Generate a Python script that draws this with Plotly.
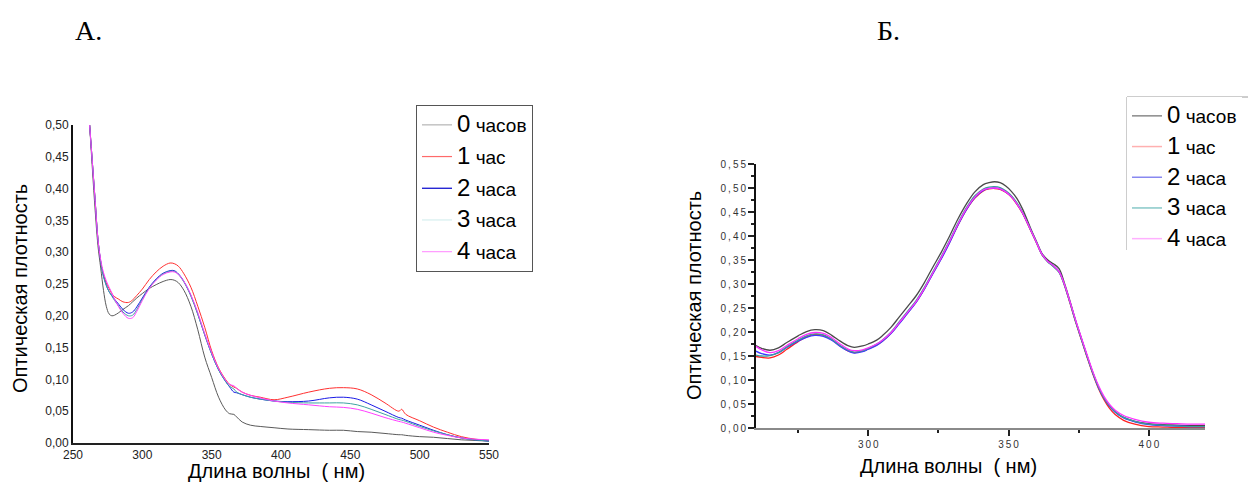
import plotly.graph_objects as go

W, H = 1248, 488

# ---------------- Data: chart A ----------------
wl_a = [262, 264, 266, 268, 270, 272, 274, 276, 278, 280, 283, 286, 290, 293, 296, 300, 305, 310,
        315, 320, 323, 326, 330, 335, 340, 345, 350, 355, 360, 363, 366, 368, 372, 378, 385, 395,
        405, 420, 435, 445, 455, 465, 475, 485, 487, 490, 500, 510, 520, 530, 540, 550]
a_h0 = [0.500, 0.430, 0.365, 0.310, 0.275, 0.240, 0.215, 0.203, 0.200, 0.201, 0.205, 0.210, 0.216,
        0.222, 0.228, 0.235, 0.243, 0.249, 0.254, 0.257, 0.256, 0.252, 0.240, 0.215, 0.178, 0.135,
        0.103, 0.072, 0.052, 0.046, 0.045, 0.041, 0.033, 0.028, 0.026, 0.024, 0.022, 0.021, 0.020,
        0.020, 0.018, 0.017, 0.015, 0.013, 0.013, 0.012, 0.010, 0.009, 0.007, 0.005, 0.004, 0.003]
a_h1 = [0.500, 0.440, 0.380, 0.320, 0.285, 0.265, 0.252, 0.243, 0.235, 0.230, 0.226, 0.222, 0.221,
        0.225, 0.232, 0.242, 0.257, 0.269, 0.278, 0.283, 0.282, 0.278, 0.266, 0.245, 0.215, 0.182,
        0.145, 0.118, 0.100, 0.092, 0.088, 0.086, 0.080, 0.075, 0.072, 0.068, 0.072, 0.080, 0.086,
        0.087, 0.085, 0.076, 0.063, 0.050, 0.053, 0.045, 0.035, 0.025, 0.017, 0.010, 0.006, 0.004]
a_h2 = [0.500, 0.440, 0.380, 0.320, 0.285, 0.262, 0.248, 0.238, 0.232, 0.226, 0.218, 0.210, 0.204,
        0.206, 0.214, 0.228, 0.245, 0.258, 0.267, 0.271, 0.271, 0.266, 0.254, 0.232, 0.203, 0.170,
        0.140, 0.115, 0.097, 0.088, 0.080, 0.079, 0.076, 0.072, 0.069, 0.066, 0.065, 0.066, 0.071,
        0.072, 0.069, 0.060, 0.050, 0.040, 0.039, 0.036, 0.028, 0.020, 0.013, 0.008, 0.005, 0.003]
a_h3 = [0.500, 0.440, 0.380, 0.320, 0.285, 0.262, 0.248, 0.238, 0.231, 0.224, 0.215, 0.206, 0.200,
        0.201, 0.210, 0.226, 0.244, 0.257, 0.266, 0.270, 0.270, 0.265, 0.253, 0.231, 0.202, 0.170,
        0.140, 0.115, 0.097, 0.089, 0.085, 0.080, 0.076, 0.072, 0.069, 0.066, 0.064, 0.063, 0.063,
        0.063, 0.060, 0.053, 0.045, 0.037, 0.036, 0.034, 0.026, 0.019, 0.013, 0.008, 0.005, 0.003]
a_h4 = [0.500, 0.440, 0.380, 0.320, 0.288, 0.268, 0.255, 0.245, 0.236, 0.226, 0.214, 0.204, 0.196,
        0.197, 0.207, 0.224, 0.243, 0.256, 0.265, 0.269, 0.269, 0.265, 0.254, 0.233, 0.205, 0.172,
        0.142, 0.117, 0.099, 0.092, 0.090, 0.086, 0.080, 0.075, 0.071, 0.066, 0.063, 0.060, 0.057,
        0.056, 0.053, 0.047, 0.040, 0.034, 0.033, 0.031, 0.024, 0.017, 0.012, 0.008, 0.006, 0.005]

# ---------------- Data: chart Б ----------------
wl_b = [260, 262, 265, 268, 271, 275, 278, 281, 284, 287, 290, 293, 295, 298, 300, 303, 305, 308,
        311, 314, 317, 320, 323, 326, 329, 332, 335, 338, 341, 343, 345, 347, 349, 351, 353, 355,
        358, 360, 362, 364, 366, 368, 370, 372, 374, 376, 378, 380, 382, 384, 386, 388, 391, 395,
        400, 405, 410, 415, 420]
b_h0 = [0.172, 0.166, 0.162, 0.167, 0.178, 0.192, 0.201, 0.205, 0.203, 0.193, 0.181, 0.171, 0.168,
        0.171, 0.175, 0.183, 0.192, 0.209, 0.231, 0.253, 0.275, 0.303, 0.335, 0.366, 0.400, 0.436,
        0.467, 0.492, 0.507, 0.511, 0.513, 0.511, 0.504, 0.493, 0.478, 0.456, 0.414, 0.388, 0.363,
        0.350, 0.342, 0.332, 0.300, 0.262, 0.222, 0.186, 0.150, 0.116, 0.086, 0.063, 0.046, 0.034,
        0.022, 0.014, 0.009, 0.007, 0.006, 0.005, 0.005]
b_h1 = [0.149, 0.147, 0.146, 0.152, 0.164, 0.180, 0.190, 0.195, 0.193, 0.184, 0.171, 0.160, 0.157,
        0.160, 0.165, 0.173, 0.181, 0.197, 0.218, 0.240, 0.262, 0.290, 0.322, 0.353, 0.387, 0.423,
        0.455, 0.479, 0.494, 0.498, 0.499, 0.497, 0.491, 0.481, 0.466, 0.447, 0.410, 0.385, 0.360,
        0.347, 0.337, 0.325, 0.296, 0.258, 0.219, 0.183, 0.147, 0.113, 0.083, 0.059, 0.041, 0.028,
        0.016, 0.008, 0.003, 0.002, 0.001, 0.001, 0.001]
b_h2 = [0.160, 0.155, 0.152, 0.157, 0.168, 0.181, 0.189, 0.193, 0.191, 0.183, 0.170, 0.160, 0.156,
        0.159, 0.164, 0.172, 0.180, 0.196, 0.217, 0.239, 0.261, 0.289, 0.321, 0.352, 0.386, 0.423,
        0.455, 0.480, 0.495, 0.499, 0.500, 0.498, 0.492, 0.482, 0.467, 0.448, 0.411, 0.386, 0.361,
        0.347, 0.338, 0.326, 0.297, 0.260, 0.221, 0.185, 0.149, 0.115, 0.085, 0.062, 0.045, 0.033,
        0.021, 0.013, 0.007, 0.005, 0.004, 0.003, 0.003]
b_h3 = [0.152, 0.150, 0.151, 0.157, 0.169, 0.183, 0.192, 0.196, 0.194, 0.185, 0.172, 0.162, 0.158,
        0.161, 0.166, 0.175, 0.183, 0.199, 0.221, 0.243, 0.265, 0.293, 0.325, 0.357, 0.391, 0.427,
        0.459, 0.484, 0.498, 0.502, 0.503, 0.501, 0.494, 0.484, 0.469, 0.449, 0.411, 0.386, 0.360,
        0.346, 0.336, 0.324, 0.296, 0.259, 0.220, 0.184, 0.149, 0.115, 0.086, 0.063, 0.046, 0.034,
        0.022, 0.014, 0.008, 0.006, 0.004, 0.003, 0.003]
b_h4 = [0.170, 0.163, 0.157, 0.161, 0.172, 0.186, 0.195, 0.199, 0.197, 0.188, 0.175, 0.164, 0.161,
        0.163, 0.167, 0.175, 0.183, 0.198, 0.219, 0.241, 0.263, 0.291, 0.323, 0.355, 0.389, 0.425,
        0.457, 0.481, 0.496, 0.499, 0.500, 0.498, 0.492, 0.482, 0.467, 0.448, 0.411, 0.386, 0.361,
        0.347, 0.338, 0.326, 0.298, 0.261, 0.223, 0.187, 0.152, 0.118, 0.089, 0.066, 0.049, 0.037,
        0.026, 0.018, 0.012, 0.010, 0.009, 0.008, 0.008]

series_nums = ["0", "1", "2", "3", "4"]
series_words = ["часов", "час", "часа", "часа", "часа"]

a_line_colors = ["#5a5a5a", "#ff3030", "#1a1ae6", "#3fa3a3", "#ff40ff"]
a_legend_colors = ["#b4b4b4", "#ff6a6a", "#0000cc", "#d6eeee", "#ff99ff"]
b_line_colors = ["#4a4a4a", "#ff2020", "#3a3aff", "#3c9c9c", "#ff30ff"]
b_legend_colors = ["#8a8a8a", "#ffb0b0", "#8888f0", "#88c8c8", "#ffb0ff"]

b_y_ticks = [0, 0.05, 0.10, 0.15, 0.20, 0.25, 0.30, 0.35, 0.40, 0.45, 0.50, 0.55]
b_x_ticks = [300, 350, 400]


def spaced(s):
    return "\u2009".join(list(s))


b_y_text = [spaced(f"{v:.2f}".replace(".", ",")) for v in b_y_ticks]
b_x_text = [spaced(str(v)) for v in b_x_ticks]

FONT = "Liberation Sans, Arial, sans-serif"

fig = go.Figure()

a_vals = [a_h0, a_h1, a_h2, a_h3, a_h4]
b_vals = [b_h0, b_h1, b_h2, b_h3, b_h4]


def lname(i):
    return f"<span style='font-size:24px'>{series_nums[i]}</span> {series_words[i]}"


for i in range(5):
    fig.add_trace(go.Scatter(x=wl_a, y=a_vals[i], mode="lines", xaxis="x", yaxis="y",
                             line=dict(color=a_line_colors[i], width=1, shape="spline"),
                             showlegend=False, hoverinfo="skip"))
for i in range(5):
    fig.add_trace(go.Scatter(x=[None], y=[None], mode="lines", xaxis="x", yaxis="y",
                             line=dict(color=a_legend_colors[i], width=1.2),
                             name=lname(i), legend="legend", legendgroup=f"a{i}"))
for i in range(5):
    fig.add_trace(go.Scatter(x=wl_b, y=b_vals[i], mode="lines", xaxis="x2", yaxis="y2",
                             line=dict(color=b_line_colors[i], width=1.3, shape="spline"),
                             showlegend=False, hoverinfo="skip"))
for i in range(5):
    fig.add_trace(go.Scatter(x=[None], y=[None], mode="lines", xaxis="x2", yaxis="y2",
                             line=dict(color=b_legend_colors[i], width=1.5),
                             name=lname(i), legend="legend2", legendgroup=f"b{i}"))


def px(x):
    return x / W


def py(y):
    return 1 - y / H


fig.update_layout(
    width=W, height=H,
    margin=dict(l=0, r=0, t=0, b=0, autoexpand=False),
    paper_bgcolor="white", plot_bgcolor="white",
    separators=", ",
    font=dict(family=FONT, color="#000"),
    xaxis=dict(domain=[px(73), px(489)], range=[250, 550], dtick=50, tick0=250,
               showline=True, linecolor="#222", linewidth=2, ticks="", showgrid=False,
               zeroline=False, tickfont=dict(size=12, color="#222", family=FONT),
               anchor="y"),
    yaxis=dict(domain=[py(443), py(125)], range=[0, 0.5], dtick=0.05, tickformat=".2f",
               showline=True, linecolor="#111", linewidth=2, ticks="", showgrid=False,
               zeroline=False, tickfont=dict(size=12, color="#222", family=FONT),
               anchor="x"),
    xaxis2=dict(domain=[px(756), px(1205)], range=[260, 420],
                tickvals=b_x_ticks, ticktext=b_x_text,
                showline=True, linecolor="#8a8a8a", linewidth=2, ticks="outside",
                ticklen=6, tickwidth=1.5, tickcolor="#222", showgrid=False, zeroline=False,
                minor=dict(ticks="outside", ticklen=3, tickwidth=1.5, tickcolor="#222",
                           dtick=25, tick0=250, showgrid=False),
                tickfont=dict(size=10, color="#333", family=FONT), anchor="y2"),
    yaxis2=dict(domain=[py(428), py(164)], range=[0, 0.55],
                tickvals=b_y_ticks, ticktext=b_y_text,
                showline=True, linecolor="#111", linewidth=2, ticks="outside",
                ticklen=6, tickwidth=1.5, tickcolor="#222", showgrid=False, zeroline=False,
                minor=dict(ticks="outside", ticklen=3, tickwidth=1.5, tickcolor="#222",
                           dtick=0.025, tick0=0, showgrid=False),
                tickfont=dict(size=10, color="#333", family=FONT), anchor="x2"),
    legend=dict(x=px(416), y=py(105), xanchor="left", yanchor="top",
                bgcolor="rgba(255,255,255,1)", bordercolor="#555", borderwidth=1,
                font=dict(size=19, color="#000", family=FONT),
                traceorder="grouped", tracegroupgap=4, itemwidth=30),
    legend2=dict(x=px(1127), y=py(97), xanchor="left", yanchor="top",
                 bgcolor="rgba(255,255,255,1)", borderwidth=0,
                 font=dict(size=19, color="#000", family=FONT),
                 traceorder="grouped", tracegroupgap=3, itemwidth=30),
    showlegend=True,
)

# legend 2 partial frame (left and top edges only)
fig.add_shape(type="line", xref="paper", yref="paper", x0=px(1127), x1=1.0,
              y0=py(97), y1=py(97), line=dict(color="#9a9a9a", width=1))
fig.add_shape(type="line", xref="paper", yref="paper", x0=px(1127), x1=px(1127),
              y0=py(97), y1=py(250), line=dict(color="#9a9a9a", width=1))

annots = [
    dict(text="А.", x=px(88), y=py(30), font=dict(size=28, family="Liberation Serif, Times New Roman, serif")),
    dict(text="Б.", x=px(888), y=py(30), font=dict(size=28, family="Liberation Serif, Times New Roman, serif")),
    dict(text="Оптическая плотность", x=px(20), y=py(289), textangle=-90, font=dict(size=20, family=FONT)),
    dict(text="Длина волны\u00a0\u00a0( нм)", x=px(276), y=py(471), font=dict(size=20, family=FONT)),
    dict(text="Оптическая плотность", x=px(694), y=py(296), textangle=-90, font=dict(size=20, family=FONT)),
    dict(text="Длина волны\u00a0\u00a0( нм)", x=px(948), y=py(466), font=dict(size=20, family=FONT)),
]
for a in annots:
    fig.add_annotation(xref="paper", yref="paper", showarrow=False, xanchor="center",
                       yanchor="middle", **a)

fig.write_html(
    "out.html",
    config={"displayModeBar": False},
    post_script="document.body.style.margin='0';document.body.style.overflow='hidden';",
)
